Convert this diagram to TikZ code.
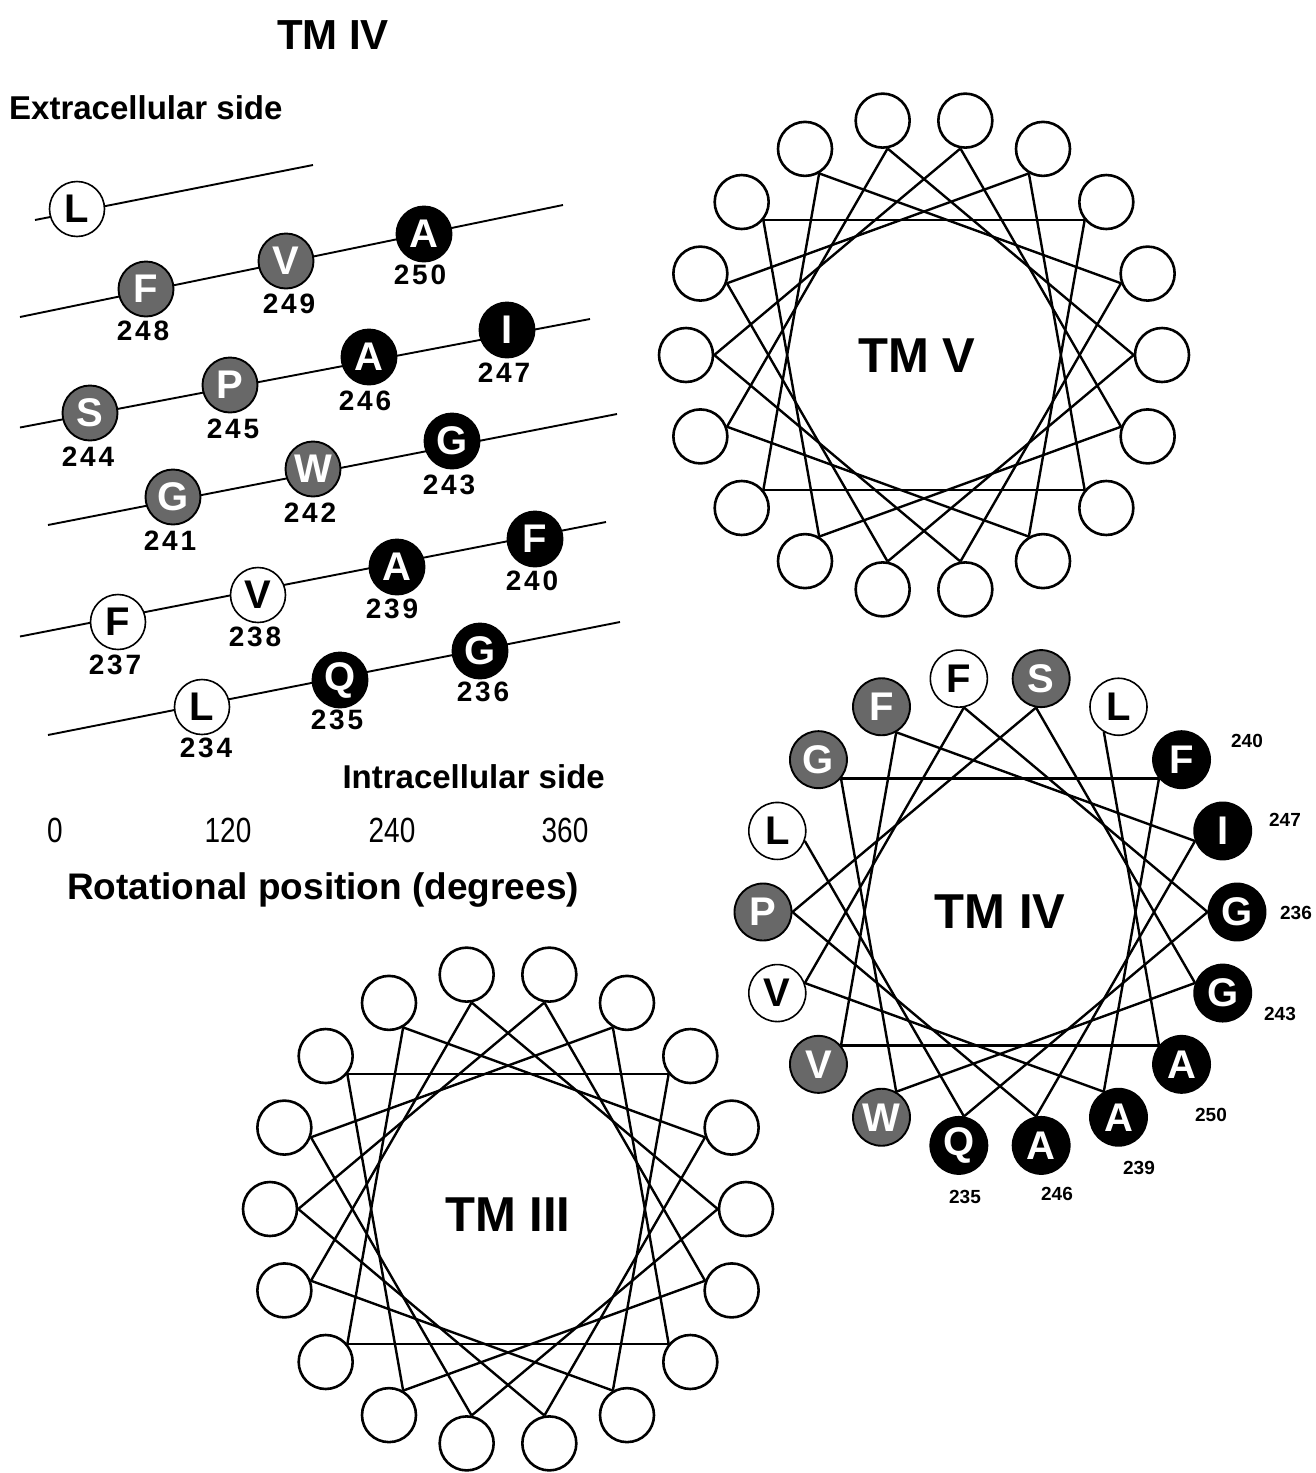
\documentclass[tikz,border=0pt]{standalone}
\usepackage{fontspec}
\setmainfont{Liberation Sans}
\newfontfamily\axisfont{Liberation Sans}[FakeStretch=0.8]
\newfontfamily\spacedfont{Liberation Sans}[LetterSpace=10]
\usetikzlibrary{calc}
\definecolor{resgray}{RGB}{104,104,104}
\tikzset{
  resnode/.style={circle, draw=black, line width=1.9pt, minimum size=55pt, inner sep=0pt, font=\fontsize{40}{40}\selectfont\bfseries},
  resW/.style={resnode, fill=white, text=black, line width=1.6pt},
  resG/.style={resnode, fill=resgray, text=white},
  resB/.style={resnode, fill=black, text=white},
  bigres/.style={minimum size=57pt},
  resnum/.style={font=\spacedfont\fontsize{28}{28}\selectfont\bfseries, inner sep=0pt},
  rowline/.style={line width=1.9pt},
  wheelcirc/.style={circle, draw=black, line width=2.6pt, minimum size=54pt, inner sep=0pt, fill=white},
  wline/.style={line width=2.4pt},
  wnum/.style={font=\fontsize{19}{19}\selectfont\bfseries, inner sep=0pt},
  tmlabel/.style={font=\fontsize{49}{49}\selectfont\bfseries, inner sep=0pt},
  txt/.style={inner sep=0pt},
}
\begin{document}
\begin{tikzpicture}[x=1pt,y=-1pt]
\useasboundingbox (0,0) rectangle (1315,1473);
\fill[white] (0,0) rectangle (1315,1473);

% ---------- texts of the left panel ----------
\node[txt, font=\fontsize{42}{42}\selectfont\bfseries] (title) at (333,35) {TM IV};
\node[txt, anchor=west, font=\fontsize{33}{33}\selectfont\bfseries] (extra) at (9,108) {Extracellular side};
\node[txt, anchor=east, font=\fontsize{33}{33}\selectfont\bfseries] (intra) at (605,777) {Intracellular side};
\node[txt, font=\axisfont\fontsize{35}{35}\selectfont] (ax0) at (55,830) {0};
\node[txt, font=\axisfont\fontsize{35}{35}\selectfont] (ax120) at (228,830) {120};
\node[txt, font=\axisfont\fontsize{35}{35}\selectfont] (ax240) at (392,830) {240};
\node[txt, font=\axisfont\fontsize{35}{35}\selectfont] (ax360) at (565,830) {360};
\node[txt, font=\fontsize{37}{37}\selectfont\bfseries] (rot) at (323,890) {Rotational position (degrees)};

% ---------- axis lines of the net diagram (one per turn) ----------
\coordinate (l0s) at (35,220);    \coordinate (l0e) at (313,165);
\coordinate (l1s) at (20,317);    \coordinate (l1e) at (563,205);
\coordinate (l2s) at (20,427.5);  \coordinate (l2e) at (590,319);
\coordinate (l3s) at (48,525);    \coordinate (l3e) at (617,414);
\coordinate (l4s) at (20,636.5);  \coordinate (l4e) at (606,522);
\coordinate (l5s) at (48,735);    \coordinate (l5e) at (620,622);
\draw[rowline] (l0s) -- (l0e);
\draw[rowline] (l1s) -- (l1e);
\draw[rowline] (l2s) -- (l2e);
\draw[rowline] (l3s) -- (l3e);
\draw[rowline] (l4s) -- (l4e);
\draw[rowline] (l5s) -- (l5e);

% ---------- residues of the net diagram ----------
\node[resW] (r251) at (77,209) {L};
\node[resG] (r248) at (146,289) {F};
\node[resG] (r249) at (286,261) {V};
\node[resB] (r250) at (424,234) {A};
\node[resG] (r244) at (90,413) {S};
\node[resG] (r245) at (230,385) {P};
\node[resB] (r246) at (369,357) {A};
\node[resB] (r247) at (507,330) {I};
\node[resG] (r241) at (173,497) {G};
\node[resG] (r242) at (313,469) {W};
\node[resB] (r243) at (452,441) {G};
\node[resW] (r237) at (118,622) {F};
\node[resW] (r238) at (258,595) {V};
\node[resB] (r239) at (397,567) {A};
\node[resB] (r240) at (535,539) {F};
\node[resW] (r234) at (202,707) {L};
\node[resB] (r235) at (340,680) {Q};
\node[resB] (r236) at (480,651) {G};

\node[resnum] (n248) at (143,331) {248};
\node[resnum] (n249) at (289,304) {249};
\node[resnum] (n250) at (420,275) {250};
\node[resnum] (n244) at (88,457) {244};
\node[resnum] (n245) at (233,429) {245};
\node[resnum] (n246) at (365,401) {246};
\node[resnum] (n247) at (504,373) {247};
\node[resnum] (n241) at (170,541) {241};
\node[resnum] (n242) at (310,513) {242};
\node[resnum] (n243) at (449,485) {243};
\node[resnum] (n237) at (115,665) {237};
\node[resnum] (n238) at (255,637) {238};
\node[resnum] (n239) at (392,609) {239};
\node[resnum] (n240) at (532,581) {240};
\node[resnum] (n234) at (206,748) {234};
\node[resnum] (n235) at (337,720) {235};
\node[resnum] (n236) at (483,692) {236};

% ---------- TM V wheel (closed, 18 links) ----------
\foreach \j in {0,...,17}
  \node[wheelcirc] (V\j) at ({924+238*cos(\j*20)},{355-238*sin(\j*20)}) {};
\foreach \j in {0,...,17}{
  \pgfmathtruncatemacro\jb{mod(\j+5,18)}
  \pgfmathtruncatemacro\aa{mod(\j*20+180,360)}
  \pgfmathtruncatemacro\ab{mod(\jb*20+180,360)}
  \draw[wline] (V\j.\aa) -- (V\jb.\ab);
}
\node[tmlabel] (labV) at (917,356) {TM V};

% ---------- TM III wheel (closed, 18 links) ----------
\foreach \j in {0,...,17}
  \node[wheelcirc] (T\j) at ({508+238*cos(\j*20)},{1209-238*sin(\j*20)}) {};
\foreach \j in {0,...,17}{
  \pgfmathtruncatemacro\jb{mod(\j+5,18)}
  \pgfmathtruncatemacro\aa{mod(\j*20+180,360)}
  \pgfmathtruncatemacro\ab{mod(\jb*20+180,360)}
  \draw[wline] (T\j.\aa) -- (T\jb.\ab);
}
\node[tmlabel] (labIII) at (508,1215) {TM III};

% ---------- TM IV wheel (residues 234-251, 17 links) ----------
\foreach \j/\l/\s in {0/G/resB, 1/I/resB, 2/F/resB, 3/L/resW, 4/S/resG, 5/F/resW,
                      6/F/resG, 7/G/resG, 8/L/resW, 9/P/resG, 10/V/resW, 11/V/resG,
                      12/W/resG, 13/Q/resB, 14/A/resB, 15/A/resB, 16/A/resB, 17/G/resB}
  \node[\s, bigres] (W\j) at ({1000+237*cos(\j*20)},{912-237*sin(\j*20)}) {\l};
\foreach \i in {0,...,16}{
  \pgfmathtruncatemacro\ja{mod(8+5*\i,18)}
  \pgfmathtruncatemacro\jb{mod(8+5*(\i+1),18)}
  \pgfmathtruncatemacro\aa{mod(\ja*20+180,360)}
  \pgfmathtruncatemacro\ab{mod(\jb*20+180,360)}
  \draw[wline] (W\ja.\aa) -- (W\jb.\ab);
}
\node[tmlabel] (labIV) at (1000,912) {TM IV};

\node[wnum] (w240) at (1247,741) {240};
\node[wnum] (w247) at (1285,820) {247};
\node[wnum] (w236) at (1296,913) {236};
\node[wnum] (w243) at (1280,1014) {243};
\node[wnum] (w250) at (1211,1115) {250};
\node[wnum] (w239) at (1139,1168) {239};
\node[wnum] (w246) at (1057,1194) {246};
\node[wnum] (w235) at (965,1197) {235};
\end{tikzpicture}
\end{document}
